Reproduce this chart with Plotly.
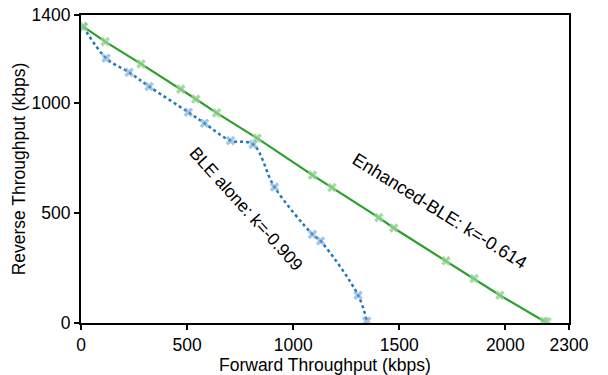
import plotly.graph_objects as go

# Enhanced-BLE (green)
enh_x = [11, 114, 283, 470, 541, 639, 830, 1091, 1183, 1404, 1474, 1720, 1853, 1974, 2182, 2196]
enh_y = [1347, 1279, 1178, 1063, 1018, 955, 840, 672, 616, 479, 432, 283, 202, 126, 8, 6]

# BLE alone (blue)
ble_x = [11, 118, 227, 321, 506, 582, 705, 811, 912, 1091, 1129, 1306, 1347]
ble_y = [1347, 1204, 1139, 1075, 958, 908, 829, 812, 618, 403, 373, 126, 9]

x_ticks = [0, 500, 1000, 1500, 2000, 2300]
y_ticks = [0, 500, 1000, 1400]

font_family = "Liberation Sans, Arial, sans-serif"

fig = go.Figure()
fig.add_trace(go.Scatter(
    x=ble_x, y=ble_y, mode="lines+markers",
    line=dict(color="#1f77b4", width=2.5, dash="dot", shape="spline", smoothing=1.0),
    marker=dict(symbol="x", size=8.5, color="rgba(100,160,215,0.6)", line=dict(width=0)),
    showlegend=False))
fig.add_trace(go.Scatter(
    x=enh_x, y=enh_y, mode="lines+markers",
    line=dict(color="#2ca02c", width=2.2),
    marker=dict(symbol="x", size=8.5, color="rgba(140,210,140,0.8)", line=dict(width=0)),
    showlegend=False))

fig.add_annotation(x=780, y=520, text="BLE alone: k=-0.909", showarrow=False,
                   textangle=48, font=dict(size=17.5, color="black", family=font_family))
fig.add_annotation(x=1690, y=510, text="Enhanced-BLE: k=-0.614", showarrow=False,
                   textangle=32, font=dict(size=18, color="black", family=font_family))

# x-axis title placed as text below the tick labels
fig.add_annotation(xref="paper", yref="paper", x=0.5, y=0, yshift=-42,
                   xanchor="center", yanchor="middle", showarrow=False,
                   text="Forward Throughput (kbps)",
                   font=dict(size=17.5, color="black", family=font_family))

axis_common = dict(showgrid=False, zeroline=False, showline=True, linecolor="black",
                   linewidth=2, mirror=True, ticks="outside", ticklen=5, tickwidth=1.5,
                   tickcolor="black", automargin=False,
                   tickfont=dict(size=17.5, color="black", family=font_family))

fig.update_xaxes(range=[0, 2300], tickvals=x_ticks, **axis_common)
fig.update_yaxes(range=[0, 1400], tickvals=y_ticks,
                 title=dict(text="Reverse Throughput (kbps)", font=dict(size=17.5, color="black", family=font_family), standoff=1),
                 **axis_common)

fig.update_layout(width=608, height=375, margin=dict(l=81, r=39, t=15, b=52),
                  plot_bgcolor="white", paper_bgcolor="white",
                  font=dict(family=font_family, color="black"))

fig.write_html("out.html")
